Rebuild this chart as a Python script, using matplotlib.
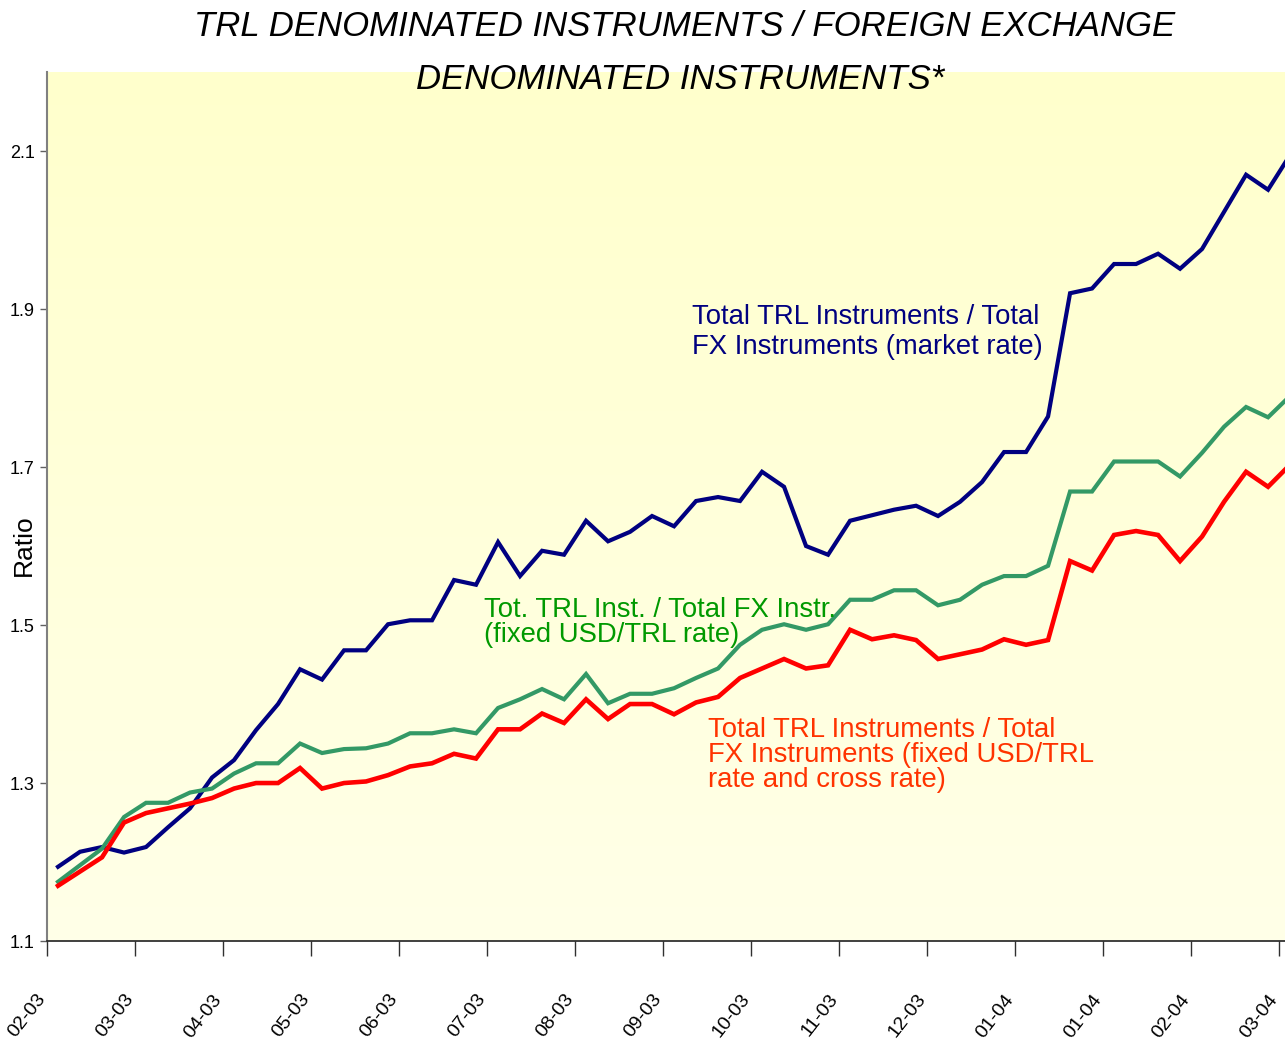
import numpy as np
import matplotlib
matplotlib.use('Agg')
import matplotlib.pyplot as plt
import matplotlib.transforms as mtransforms

# weekly observations, Feb 2003 - Mar 2004
market_rate = [1.194, 1.213, 1.219, 1.212, 1.219, 1.244, 1.268, 1.307, 1.329, 1.367,
               1.400, 1.444, 1.431, 1.468, 1.468, 1.501, 1.506, 1.506, 1.557, 1.551,
               1.605, 1.562, 1.594, 1.589, 1.632, 1.606, 1.618, 1.638, 1.625, 1.657,
               1.662, 1.657, 1.694, 1.675, 1.600, 1.589, 1.632, 1.639, 1.646, 1.651,
               1.638, 1.656, 1.681, 1.719, 1.719, 1.764, 1.920, 1.926, 1.957, 1.957,
               1.970, 1.951, 1.976, 2.023, 2.070, 2.051, 2.095]
fixed_usd = [1.175, 1.196, 1.217, 1.257, 1.275, 1.275, 1.288, 1.293, 1.312, 1.325,
             1.325, 1.350, 1.338, 1.343, 1.344, 1.350, 1.363, 1.363, 1.368, 1.363,
             1.395, 1.406, 1.419, 1.406, 1.438, 1.401, 1.413, 1.413, 1.420, 1.433,
             1.445, 1.475, 1.494, 1.501, 1.494, 1.501, 1.532, 1.532, 1.544, 1.544,
             1.525, 1.532, 1.551, 1.562, 1.562, 1.575, 1.669, 1.669, 1.707, 1.707,
             1.707, 1.688, 1.718, 1.751, 1.776, 1.763, 1.790]
fixed_cross = [1.170, 1.188, 1.206, 1.250, 1.262, 1.268, 1.274, 1.281, 1.293, 1.300,
               1.300, 1.319, 1.293, 1.300, 1.302, 1.310, 1.321, 1.325, 1.337, 1.331,
               1.368, 1.368, 1.388, 1.376, 1.406, 1.381, 1.400, 1.400, 1.387, 1.402,
               1.409, 1.433, 1.445, 1.457, 1.445, 1.449, 1.494, 1.482, 1.487, 1.481,
               1.457, 1.463, 1.469, 1.482, 1.475, 1.481, 1.581, 1.569, 1.614, 1.619,
               1.614, 1.581, 1.612, 1.656, 1.694, 1.675, 1.703]
month_labels = ['02-03', '03-03', '04-03', '05-03', '06-03', '07-03', '08-03', '09-03',
                '10-03', '11-03', '12-03', '01-04', '01-04', '02-04', '03-04']
y_ticks = [1.1, 1.3, 1.5, 1.7, 1.9, 2.1]

narrow = ['Liberation Sans Narrow', 'Liberation Sans', 'DejaVu Sans']
plain = ['Liberation Sans', 'DejaVu Sans']

fig = plt.figure(figsize=(12.85, 10.47), dpi=100)
ax = fig.add_axes([0.0366, 0.1012, 0.9634, 0.830])

# pale yellow gradient background
grad = np.linspace(0, 1, 256).reshape(-1, 1)
top_c = np.array([1.0, 1.0, 0.80])
bot_c = np.array([1.0, 1.0, 0.91])
img = bot_c + (top_c - bot_c) * grad
ax.imshow(img[:, None, :].repeat(2, axis=1), extent=[0, 1, 0, 1], origin='lower',
          transform=ax.transAxes, aspect='auto', zorder=0)

x = np.arange(len(market_rate))
ax.plot(x, market_rate, color='#000080', lw=3, zorder=3, solid_joinstyle='miter')
ax.plot(x, fixed_usd, color='#339966', lw=3, zorder=3, solid_joinstyle='miter')
ax.plot(x, fixed_cross, color='#FF0000', lw=3.3, zorder=3, solid_joinstyle='miter')

ax.set_xlim(-0.5, 55.77)
ax.set_ylim(1.1, 2.2)

for s in ['top', 'right']:
    ax.spines[s].set_visible(False)
ax.spines['left'].set_color('#808080')
ax.spines['left'].set_linewidth(1.5)
ax.spines['bottom'].set_color('#202020')
ax.spines['bottom'].set_linewidth(1.2)

ax.set_yticks(y_ticks)
ax.set_yticklabels([f'{v:.1f}' for v in y_ticks], family=narrow, fontsize=13)
ax.tick_params(axis='y', length=5, width=1, color='#606060', pad=4)

xt = np.arange(len(month_labels)) * 4 - 0.5
ax.set_xticks(xt)
ax.set_xticklabels(month_labels, family=narrow, fontsize=14, rotation=52,
                   ha='right', va='top', rotation_mode='anchor')
ax.tick_params(axis='x', length=11, width=1, color='#303030', pad=25)
offset = mtransforms.ScaledTranslation(-11 / 100, 0, fig.dpi_scale_trans)
for lab in ax.get_xticklabels():
    lab.set_transform(lab.get_transform() + offset)

ax.set_ylabel('Ratio', family=narrow, fontsize=19)
ax.yaxis.set_label_coords(-0.009, 0.456)

ax.text(28.82, 1.907, 'Total TRL Instruments / Total\nFX Instruments (market rate)',
        color='#000080', family=plain, fontsize=19.8, va='top', ha='left',
        linespacing=1.2, zorder=4)
ax.text(19.36, 1.535, 'Tot. TRL Inst. / Total FX Instr.\n(fixed USD/TRL rate)',
        color='#009900', family=plain, fontsize=19.8, va='top', ha='left',
        linespacing=0.95, zorder=4)
ax.text(29.55, 1.383, 'Total TRL Instruments / Total\nFX Instruments (fixed USD/TRL\nrate and cross rate)',
        color='#FF3300', family=plain, fontsize=19.8, va='top', ha='left',
        linespacing=0.95, zorder=4)

fig.text(0.533, 0.975, 'TRL DENOMINATED INSTRUMENTS / FOREIGN EXCHANGE',
         family=narrow, style='italic', fontsize=25, ha='center', va='center')
fig.text(0.529, 0.924, 'DENOMINATED INSTRUMENTS*',
         family=narrow, style='italic', fontsize=25, ha='center', va='center', zorder=5)

fig.savefig('out.png', dpi=100)
